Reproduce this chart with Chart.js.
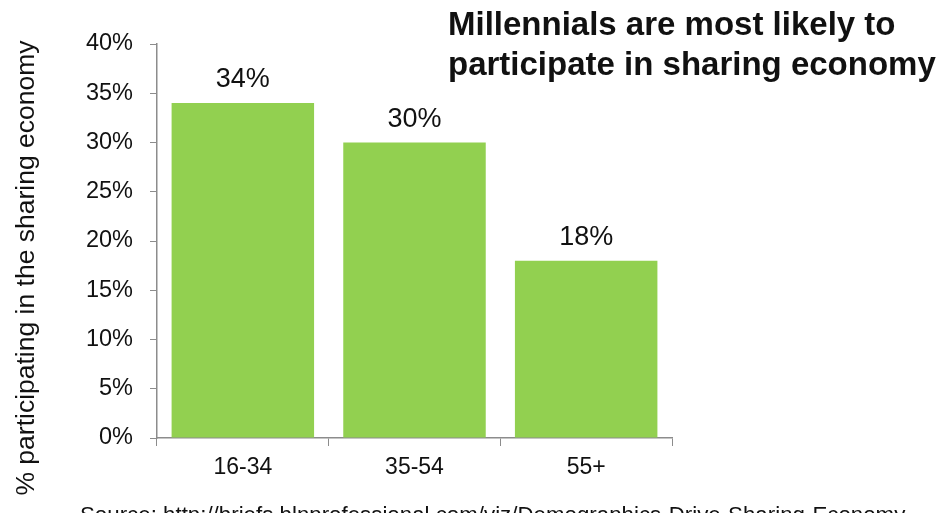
<!DOCTYPE html>
<html>
<head>
<meta charset="utf-8">
<script src="https://cdn.jsdelivr.net/npm/chart.js@4"></script>
<style>
    html, body { margin: 0; padding: 0; background: #fff; }
    #wrap { width: 945px; height: 513px; position: relative; }
</style>
</head>
<body>
<div id="wrap"><canvas id="chartShare"></canvas></div>
<script>
const ageGroups = ['16-34', '35-54', '55+'];
const sharePct = [34, 30, 18];
const yTicks = [0, 5, 10, 15, 20, 25, 30, 35, 40];

const titleLines = ['Millennials are most likely to', 'participate in sharing economy'];
const yTitle = '% participating in the sharing economy';
const sourceText = 'Source: http://briefs.blnprofessional.com/viz/Demographics-Drive-Sharing-Economy';

const FONT = '"Liberation Sans", Arial, sans-serif';
const AXIS_GRAY = '#8c8c8c';
const TEXT = '#111111';

// labels above bars + heading, axis title and source line
const extraText = {
    id: 'extraText',
    afterDatasetsDraw(chart) {
        const ctx = chart.ctx;
        ctx.save();
        ctx.fillStyle = TEXT;

        ctx.font = '27px ' + FONT;
        ctx.textAlign = 'center';
        ctx.textBaseline = 'alphabetic';
        chart.getDatasetMeta(0).data.forEach(function (bar, i) {
            ctx.fillText(sharePct[i] + '%', bar.x, bar.y - 16);
        });

        ctx.font = 'bold 33px ' + FONT;
        ctx.textAlign = 'left';
        ctx.textBaseline = 'alphabetic';
        ctx.fillText(titleLines[0], 448, 35);
        ctx.fillText(titleLines[1], 448, 75);

        ctx.font = '22.3px ' + FONT;
        ctx.textBaseline = 'alphabetic';
        ctx.fillText(sourceText, 80, 522);

        ctx.translate(27, 268);
        ctx.rotate(-Math.PI / 2);
        ctx.font = '26.5px ' + FONT;
        ctx.textAlign = 'center';
        ctx.textBaseline = 'middle';
        ctx.fillText(yTitle, 0, 0);
        ctx.restore();
    }
};

const ctxShare = document.getElementById('chartShare');
new Chart(ctxShare, {
    type: 'bar',
    data: {
        labels: ageGroups,
        datasets: [{
            data: sharePct,
            backgroundColor: '#92d050',
            borderWidth: 0,
            categoryPercentage: 0.83,
            barPercentage: 1
        }]
    },
    options: {
        responsive: true,
        maintainAspectRatio: false,
        animation: false,
        devicePixelRatio: 1,
        layout: { padding: { left: 0, top: 44, right: 273, bottom: 0 } },
        plugins: {
            legend: { display: false },
            tooltip: { enabled: false }
        },
        scales: {
            x: {
                afterFit: function (scale) { scale.height = 75; },
                grid: { drawOnChartArea: false, color: AXIS_GRAY, tickLength: 8, offset: true },
                border: { color: AXIS_GRAY, width: 1.5 },
                ticks: { color: TEXT, font: { family: FONT, size: 23 }, padding: 8 }
            },
            y: {
                min: 0,
                max: 40,
                afterFit: function (scale) { scale.width = 157; },
                afterBuildTicks: function (scale) {
                    scale.ticks = yTicks.map(function (v) { return { value: v }; });
                },
                grid: { drawOnChartArea: false, color: AXIS_GRAY, tickLength: 7 },
                border: { color: AXIS_GRAY, width: 1.5 },
                ticks: {
                    color: TEXT,
                    font: { family: FONT, size: 23.5 },
                    padding: 17,
                    callback: function (v) { return v + '%'; }
                }
            }
        }
    },
    plugins: [extraText]
});
</script>
</body>
</html>
